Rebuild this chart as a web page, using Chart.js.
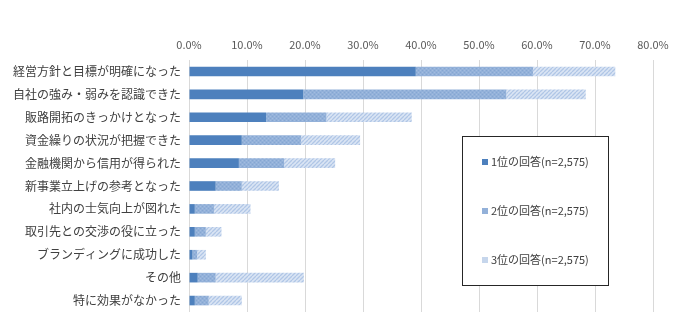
<!DOCTYPE html>
<html><head><meta charset="utf-8">
<script src="https://cdn.jsdelivr.net/npm/chart.js@4/dist/chart.umd.min.js"></script>
<style>html,body{margin:0;padding:0;background:#fff}#wrap{width:700px;height:328px}</style>
</head><body><div id="wrap"><canvas id="c" width="700" height="328"></canvas></div>
<script>
const categories = ["経営方針と目標が明確になった","自社の強み・弱みを認識できた","販路開拓のきっかけとなった","資金繰りの状況が把握できた","金融機関から信用が得られた","新事業立上げの参考となった","社内の士気向上が図れた","取引先との交渉の役に立った","ブランディングに成功した","その他","特に効果がなかった"];
const rank1 = [39.1,19.7,13.3,9.1,8.6,4.6,1.0,1.0,0.6,1.5,1.0];
const rank2 = [20.2,35.0,10.4,10.2,7.8,4.5,3.3,1.9,0.8,3.1,2.4];
const rank3 = [14.2,13.7,14.7,10.2,8.8,6.4,6.3,2.7,1.5,15.2,5.7];
const seriesNames = ["1位の回答(n=2,575)","2位の回答(n=2,575)","3位の回答(n=2,575)"];
const xTicks = [0,10,20,30,40,50,60,70,80];

const FONT = '"Noto Sans CJK JP","Noto Sans",sans-serif';

function makePattern(kind){
  const p = document.createElement('canvas');
  const ctx = p.getContext('2d');
  if(kind==='dark'){ return '#4d80bd'; }
  if(kind==='mid'){
    p.width=4;p.height=4;
    ctx.fillStyle='#93b1d9';ctx.fillRect(0,0,4,4);
    ctx.fillStyle='#85a6d2';ctx.fillRect(0,0,1,1);ctx.fillRect(2,2,1,1);
    ctx.fillStyle='#a2bce0';ctx.fillRect(2,0,1,1);ctx.fillRect(0,2,1,1);
  } else {
    p.width=4;p.height=4;
    ctx.fillStyle='#dbe5f4';ctx.fillRect(0,0,4,4);
    ctx.strokeStyle='#b0c6e6';ctx.lineWidth=1.3;
    ctx.beginPath();
    for(let k=-4;k<=8;k+=4){ctx.moveTo(k,4);ctx.lineTo(k+4,0);}
    ctx.stroke();
  }
  return document.getElementById('c').getContext('2d').createPattern(p,'repeat');
}
const fills = [makePattern('dark'), makePattern('mid'), makePattern('light')];
const legendSwatch = ['#4d80bd','#93b1d9','#c6d6ec'];

const legendBox = {
  id:'legendBox',
  afterDraw(chart){
    const ctx = chart.ctx;
    ctx.save();
    ctx.fillStyle='#fff';
    ctx.fillRect(462,136,146,149);
    ctx.strokeStyle='#262626';ctx.lineWidth=1;
    ctx.strokeRect(462.5,136.5,146,149);
    const ys=[162,211,260];
    ctx.font='11px '+FONT;
    ctx.textBaseline='middle';
    for(let i=0;i<3;i++){
      ctx.fillStyle=legendSwatch[i];
      ctx.fillRect(482,ys[i]-3,6,6);
      ctx.fillStyle='#404040';
      ctx.fillText(seriesNames[i],491,ys[i]);
    }
    ctx.restore();
  }
};

new Chart(document.getElementById('c'),{
  type:'bar',
  data:{
    labels:categories,
    datasets:[rank1,rank2,rank3].map((d,i)=>({
      label:seriesNames[i], data:d, backgroundColor:fills[i], borderWidth:0,
      barPercentage:0.42, categoryPercentage:1
    }))
  },
  options:{
    indexAxis:'y',
    responsive:false, animation:false,
    layout:{padding:{left:0,right:47,top:0,bottom:16}},
    plugins:{legend:{display:false},tooltip:{enabled:false}},
    scales:{
      x:{
        position:'top', stacked:true, min:0, max:80,
        afterBuildTicks(s){ s.ticks = xTicks.map(v=>({value:v})); },
        afterFit(s){ s.height=60; },
        ticks:{callback:v=>v.toFixed(1)+'%', font:{size:11,family:FONT}, color:'#595959', padding:9, maxRotation:0},
        grid:{color:'#d9d9d9', drawTicks:false, lineWidth:1},
        border:{display:false}
      },
      y:{
        stacked:true,
        afterFit(s){ s.width=189; },
        ticks:{font:{size:12,family:FONT}, color:'#404040', padding:8, autoSkip:false},
        grid:{display:false, drawTicks:false},
        border:{display:false}
      }
    }
  },
  plugins:[legendBox]
});
</script></body></html>
